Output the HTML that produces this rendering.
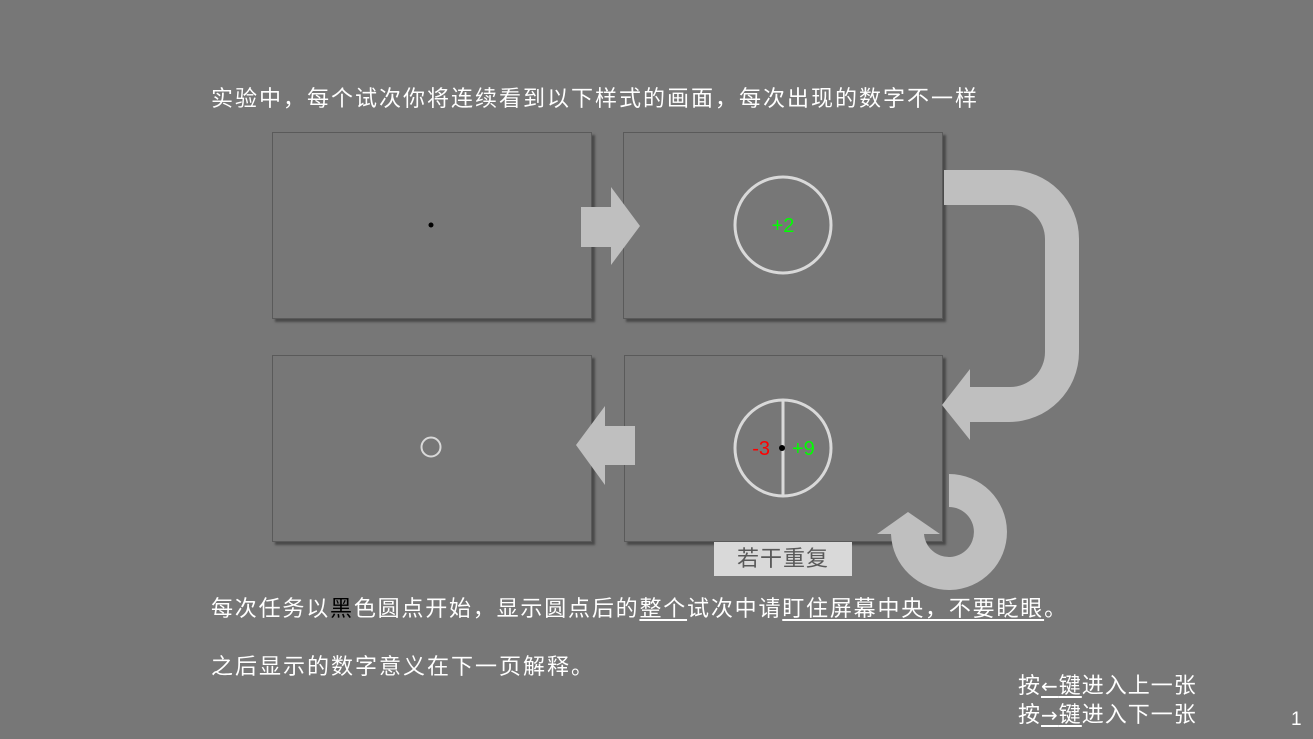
<!DOCTYPE html>
<html><head><meta charset="utf-8"><style>
body{margin:0;width:1313px;height:739px;background:#777;overflow:hidden;position:relative;font-family:"Liberation Sans","Noto Sans CJK SC",sans-serif;color:#fff}
.t{position:absolute;white-space:nowrap;font-size:22px;line-height:1;letter-spacing:2px}
.p{position:absolute;width:318px;height:185px;background:#777;border:1px solid #5a5a5a;box-shadow:3px 3px 2px #4a4a4a}
u{text-decoration:underline;text-underline-offset:3px}
.ar{font-family:"DejaVu Sans",sans-serif;font-size:20px}
</style></head><body>
<div class="t" style="left:211px;top:88px">实验中，每个试次你将连续看到以下样式的画面，每次出现的数字不一样</div>
<div class="p" style="left:272px;top:132px"></div>
<div class="p" style="left:623px;top:132px"></div>
<div class="p" style="left:272px;top:355px"></div>
<div class="p" style="left:624px;top:355px;width:317px"></div>
<svg width="1313" height="739" style="position:absolute;left:0;top:0">
<circle cx="431" cy="225" r="2.5" fill="#000"/>
<circle cx="783" cy="225" r="48" fill="none" stroke="#d9d9d9" stroke-width="3"/>
<text x="783" y="232" fill="#00ff00" font-size="20" text-anchor="middle" font-family="Liberation Sans">+2</text>
<circle cx="431" cy="447" r="9.5" fill="none" stroke="#d9d9d9" stroke-width="2"/>
<circle cx="783" cy="448" r="48" fill="none" stroke="#d9d9d9" stroke-width="3"/>
<line x1="783" y1="400" x2="783" y2="496" stroke="#d9d9d9" stroke-width="3"/>
<circle cx="782" cy="448" r="3" fill="#000"/>
<text x="770" y="455" fill="#ff0000" font-size="20" text-anchor="end" font-family="Liberation Sans">-3</text>
<text x="792" y="455" fill="#00ff00" font-size="20" font-family="Liberation Sans">+9</text>
<polygon points="581,207 611,207 611,187 640,226 611,265 611,247 581,247" fill="#bfbfbf"/>
<polygon points="635,426 605,426 605,406 576,445 605,485 605,465 635,465" fill="#bfbfbf"/>
<path d="M944,170 H1010 A69,69 0 0 1 1079,239 V352 A70,70 0 0 1 1009,422 H970 V440 L942,405 L970,369 V387 H1010 A35,35 0 0 0 1045,352 V239 A34,34 0 0 0 1011,205 H944 Z" fill="#bfbfbf"/>
<path d="M949,474 A58,58 0 1 1 891,534 H877 L908,512 L940,534 H924 A25,25 0 1 0 949,507 Z" fill="#bfbfbf"/>
</svg>
<div style="position:absolute;left:714px;top:542px;width:138px;height:34px;background:#d9d9d9;color:#595959;font-size:22px;line-height:34px;text-align:center;letter-spacing:1px">若干重复</div>
<div class="t" style="left:211px;top:598px;letter-spacing:1.8px">每次任务以<span style="color:#000">黑</span>色圆点开始，显示圆点后的<u>整个</u>试次中请<u>盯住屏幕中央，不要眨眼</u>。</div>
<div class="t" style="left:211px;top:656px">之后显示的数字意义在下一页解释。</div>
<div class="t" style="left:1018px;top:675px;letter-spacing:1px">按<u><span class="ar">←</span>键</u>进入上一张</div>
<div class="t" style="left:1018px;top:704px;letter-spacing:1px">按<u><span class="ar">→</span>键</u>进入下一张</div>
<div class="t" style="left:1291px;top:710px;font-size:19px">1</div>
</body></html>
